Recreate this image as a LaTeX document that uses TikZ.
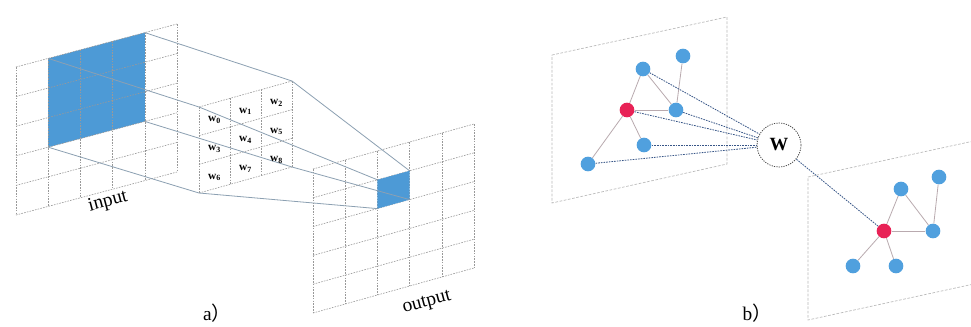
\documentclass[tikz,border=0pt]{standalone}
\usepackage{fontspec}
\setmainfont{Liberation Serif}
\newfontfamily\cjkfont{Noto Sans CJK SC}
\usetikzlibrary{calc}
\definecolor{winblue}{RGB}{77,154,214}
\definecolor{nodeblue}{RGB}{80,160,222}
\definecolor{nodered}{RGB}{232,34,86}
\definecolor{linkgrey}{RGB}{140,160,178}
\definecolor{wlinkblue}{RGB}{55,85,135}
\definecolor{edgegrey}{RGB}{185,170,175}
\tikzset{
  gridline/.style={draw=gray!80, line width=0.45pt, dash pattern=on 1.2pt off 0.9pt},
  winfill/.style={fill=winblue, draw=none},
  pyrline/.style={draw=linkgrey, line width=0.6pt},
  klabel/.style={inner sep=0pt, font=\bfseries\fontsize{8.5}{9}\selectfont},
  biglabel/.style={inner sep=0pt, font=\fontsize{14.5}{16}\selectfont},
  plane/.style={draw=gray!55, line width=0.5pt, dash pattern=on 2pt off 1.2pt},
  bnode/.style={circle, fill=nodeblue, draw=none, minimum size=11pt, inner sep=0pt},
  rnode/.style={circle, fill=nodered, draw=none, minimum size=11pt, inner sep=0pt},
  gedge/.style={draw=edgegrey, line width=0.6pt},
  wlink/.style={draw=wlinkblue, line width=0.6pt, dash pattern=on 1.2pt off 0.8pt},
  wnode/.style={circle, draw=gray!55!black, fill=white, line width=0.6pt, dash pattern=on 0.9pt off 0.9pt,
    minimum size=33pt, inner sep=0pt, font=\bfseries\fontsize{14}{14}\selectfont}
}
\begin{document}
\begin{tikzpicture}[x=0.75pt,y=-0.75pt]
\useasboundingbox (0,0) rectangle (971,326);
\clip (0,0) rectangle (971,326);
\fill[white] (0,0) rectangle (971,326);

% ---------- a) input grid ----------
\coordinate (iTL) at (48.2,58.4);
\coordinate (iTR) at (144.8,32.6);
\coordinate (iBR) at (144.8,121.4);
\coordinate (iBL) at (48.2,147.2);
\fill[winfill] (iTL) -- (iTR) -- (iBR) -- (iBL) -- cycle;
\foreach \i in {0,...,5} \draw[gridline] ({16+32.2*\i},{67-8.6*\i}) -- ++(0,148);
\foreach \j in {0,...,5} \draw[gridline] (16,{67+29.6*\j}) -- ++(161,-43);

% ---------- kernel grid ----------
\coordinate (kTL) at (199,107);
\coordinate (kTR) at (292,81);
\coordinate (kBR) at (292,167);
\coordinate (kBL) at (199,193);
\foreach \i in {0,...,3} \draw[gridline] ({199+31*\i},{107-8.667*\i}) -- ++(0,86);
\foreach \j in {0,...,3} \draw[gridline] (199,{107+28.667*\j}) -- ++(93,-26);

% ---------- output grid ----------
\coordinate (oTL) at (377.4,179.8);
\coordinate (oTR) at (409.6,170.8);
\coordinate (oBR) at (409.6,199.6);
\coordinate (oBL) at (377.4,208.6);
\foreach \i in {0,...,5} \draw[gridline] ({313+32.2*\i},{169-9*\i}) -- ++(0,144);
\foreach \j in {0,...,5} \draw[gridline] (313,{169+28.8*\j}) -- ++(161,-45);
\fill[winfill] (oTL) -- (oTR) -- (oBR) -- (oBL) -- cycle;

% ---------- pyramid lines ----------
\draw[pyrline] (iTR) -- (kTR) -- (oTR);
\draw[pyrline] (iTL) -- (kTL) -- (oTL);
\draw[pyrline] (iBL) -- (kBL) -- (oBL);
\draw[pyrline] (iBR) -- (kBR) -- (oBR);

% ---------- kernel labels ----------
\foreach \r in {0,1,2} {
  \foreach \c in {0,1,2} {
    \pgfmathtruncatemacro{\k}{3*\r+\c}
    \node[klabel] (w\k) at ({199+31*(\c+0.5)},{107-8.667*(\c+0.5)+28.667*(\r+0.5)+3}) {w\textsubscript{\k}};
  }
}

\node[biglabel, rotate=15] (inlab) at (108,202) {input};
\node[biglabel, rotate=15] (outlab) at (427,303) {output};
\node[biglabel] (alab) at (217,313) {a\cjkfont{）}};

% ---------- b) planes ----------
\draw[plane] (552,55) -- (727,17) -- (727,164) -- (552,203) -- cycle;
\draw[plane] (808,177) -- (983,139) -- (983,282) -- (808,320) -- cycle;

% plane 1 nodes
\node[bnode] (p1a) at (643,69) {};
\node[bnode] (p1b) at (683,56) {};
\node[rnode] (p1r) at (627,110) {};
\node[bnode] (p1c) at (676,110) {};
\node[bnode] (p1d) at (644,145) {};
\node[bnode] (p1e) at (588,164) {};
% plane 2 nodes
\node[rnode] (p2r) at (884,231) {};
\node[bnode] (p2a) at (901,189) {};
\node[bnode] (p2b) at (939,177) {};
\node[bnode] (p2c) at (933,231) {};
\node[bnode] (p2e) at (853,266) {};
\node[bnode] (p2d) at (896,266) {};

\node[wnode] (W) at (779,145) {W};

\foreach \a/\b in {p1r/p1a, p1a/p1c, p1b/p1c, p1r/p1c, p1r/p1d, p1r/p1e,
                   p2r/p2a, p2a/p2c, p2b/p2c, p2r/p2c, p2r/p2e, p2r/p2d}
  \draw[gedge] (\a) -- (\b);

\foreach \a in {p1a, p1r, p1c, p1d, p1e, p2r}
  \draw[wlink] (\a) -- (W);

\node[biglabel] (blab) at (757,313) {b\cjkfont{）}};
\end{tikzpicture}
\end{document}
